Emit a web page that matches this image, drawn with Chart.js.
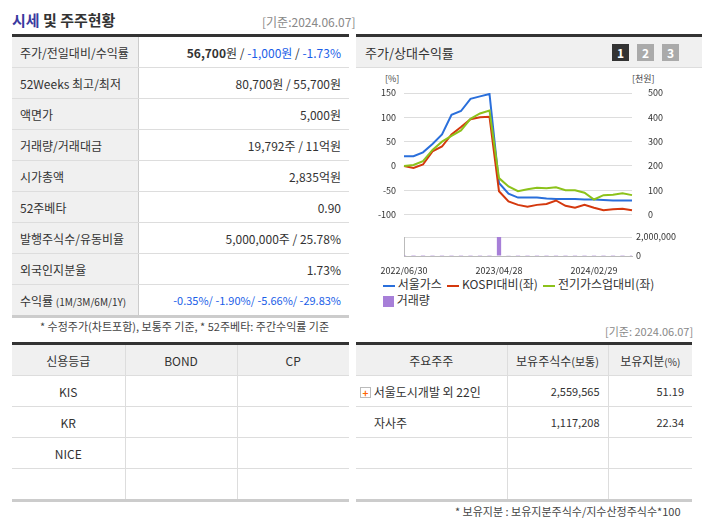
<!DOCTYPE html>
<html><head><meta charset="utf-8">
<script src="https://cdn.jsdelivr.net/npm/chart.js@4"></script>
<style>
body{margin:0;width:702px;height:525px;background:#fff;font-family:"Noto Sans CJK KR","Noto Sans",sans-serif;font-size:12px;color:#333;position:relative;overflow:hidden}
.a{position:absolute;white-space:nowrap}
table{border-collapse:collapse;position:absolute;table-layout:fixed}
td{border-bottom:1px solid #ddd;padding:0 8px;height:30px;font-size:12px;white-space:nowrap}
.lab{background:#f0f0f0;border-right:1px solid #ccc}
.v{text-align:right;color:#333}
.blue{color:#1a5ee8}
.g td{border-right:1px solid #ddd;text-align:center}
.g tr.h td{background:#f0f0f0}
.btn{position:absolute;width:17px;height:17px;top:44px;color:#fff;font-weight:bold;font-size:12px;text-align:center;line-height:17px;background:#aaa}
</style></head><body>
<div class="a" style="left:12px;top:9px;font-size:15px;font-weight:bold;color:#333"><span style="color:#3a3aa0">시세</span> 및 주주현황</div>
<div class="a" style="left:262px;top:13px;color:#888;font-size:12px">[기준:2024.06.07]</div>
<div class="a" style="left:12px;top:34px;width:337px;height:3px;background:#333"></div>
<div class="a" style="left:356px;top:34px;width:346px;height:3px;background:#333"></div>

<table style="left:12px;top:37px;width:337px">
<colgroup><col style="width:126px"><col style="width:211px"></colgroup>
<tr><td class="lab">주가/전일대비/수익률</td><td class="v"><b>56,700</b>원 / <span class="blue">-1,000원</span> / <span class="blue">-1.73%</span></td></tr>
<tr><td class="lab">52Weeks 최고/최저</td><td class="v">80,700원 / 55,700원</td></tr>
<tr><td class="lab">액면가</td><td class="v">5,000원</td></tr>
<tr><td class="lab">거래량/거래대금</td><td class="v">19,792주 / 11억원</td></tr>
<tr><td class="lab">시가총액</td><td class="v">2,835억원</td></tr>
<tr><td class="lab">52주베타</td><td class="v">0.90</td></tr>
<tr><td class="lab">발행주식수/유동비율</td><td class="v">5,000,000주 / 25.78%</td></tr>
<tr><td class="lab">외국인지분율</td><td class="v">1.73%</td></tr>
<tr><td class="lab" style="border-bottom:3px solid #ccc">수익률 <span style="font-size:10px">(1M/3M/6M/1Y)</span></td><td class="v blue" style="border-bottom:3px solid #ccc;font-size:11px">-0.35%/ -1.90%/ -5.66%/ -29.83%</td></tr>
</table>
<div class="a" style="left:40px;top:318px;font-size:11px;color:#444">* 수정주가(차트포함), 보통주 기준, * 52주베타: 주간수익률 기준</div>

<div class="a" style="left:356px;top:37px;width:346px;height:30px;background:#f0f0f0;border-bottom:1px solid #ddd"></div>
<div class="a" style="left:365px;top:43px;font-size:13px">주가/상대수익률</div>
<div class="btn" style="left:612px;background:#333">1</div>
<div class="btn" style="left:637px">2</div>
<div class="btn" style="left:662px">3</div>
<div class="a" style="left:385px;top:72px;font-size:9px;color:#444">[%]</div>
<div class="a" style="left:632px;top:72px;font-size:9px;color:#444">[천원]</div>

<div class="a" style="left:356px;top:70px;width:344px;height:158px"><canvas id="c1"></canvas></div>
<div class="a" style="left:356px;top:229px;width:344px;height:46px"><canvas id="c2"></canvas></div>

<div class="a" style="left:383px;top:276px;font-size:12px;line-height:16px">
<span style="display:inline-block;width:12px;height:2px;background:#2a6fdb;vertical-align:middle"></span> 서울가스 &nbsp;<span style="display:inline-block;width:12px;height:2px;background:#d4380d;vertical-align:middle"></span> KOSPI대비(좌) &nbsp;<span style="display:inline-block;width:12px;height:2px;background:#8cc21b;vertical-align:middle"></span> 전기가스업대비(좌)<br>
<span style="display:inline-block;width:11px;height:11px;background:#a77fd8;vertical-align:middle"></span> 거래량</div>

<div class="a" style="left:12px;top:342px;width:337px;height:3px;background:#333"></div>
<div class="a" style="left:356px;top:342px;width:336px;height:3px;background:#333"></div>
<div class="a" style="left:605px;top:323px;color:#888;font-size:11px">[기준: 2024.06.07]</div>

<table class="g" style="left:12px;top:345px;width:337px">
<colgroup><col style="width:113px"><col style="width:112px"><col style="width:112px"></colgroup>
<tr class="h"><td>신용등급</td><td>BOND</td><td style="border-right:0">CP</td></tr>
<tr><td>KIS</td><td></td><td style="border-right:0"></td></tr>
<tr><td>KR</td><td></td><td style="border-right:0"></td></tr>
<tr><td>NICE</td><td></td><td style="border-right:0"></td></tr>
<tr><td style="border-bottom:3px solid #ccc"></td><td style="border-bottom:3px solid #ccc"></td><td style="border-right:0;border-bottom:3px solid #ccc"></td></tr>
</table>
<table class="g" style="left:356px;top:345px;width:336px">
<colgroup><col style="width:151px"><col style="width:101px"><col style="width:84px"></colgroup>
<tr class="h"><td>주요주주</td><td>보유주식수<span style="font-size:11px">(보통)</span></td><td style="border-right:0">보유지분<span style="font-size:10px">(%)</span></td></tr>
<tr><td style="text-align:left;padding-left:4px"><span style="display:inline-block;width:9px;height:9px;border:1px solid #bbb;color:#f60;font-size:10px;line-height:9px;text-align:center;font-weight:bold">+</span> 서울도시개발 외 22인</td><td style="text-align:right;font-size:11px">2,559,565</td><td style="border-right:0;text-align:right;font-size:11px">51.19</td></tr>
<tr><td style="text-align:left;padding-left:18px">자사주</td><td style="text-align:right;font-size:11px">1,117,208</td><td style="border-right:0;text-align:right;font-size:11px">22.34</td></tr>
<tr><td></td><td></td><td style="border-right:0"></td></tr>
<tr><td style="border-bottom:3px solid #ccc"></td><td style="border-bottom:3px solid #ccc"></td><td style="border-right:0;border-bottom:3px solid #ccc"></td></tr>
</table>
<div class="a" style="left:455px;top:503px;font-size:11px;color:#444">* 보유지분 : 보유지분주식수/지수산정주식수*100</div>

<script>
const labels=["2022/06/30","2022/07/29","2022/08/31","2022/09/30","2022/10/31","2022/11/30","2022/12/29","2023/01/31","2023/02/28","2023/03/31","2023/04/28","2023/05/31","2023/06/30","2023/07/31","2023/08/31","2023/09/27","2023/10/31","2023/11/30","2023/12/28","2024/01/31","2024/02/29","2024/03/29","2024/04/30","2024/05/31","2024/06/07"];
const shownTicks=["2022/06/30","2023/04/28","2024/02/29"];
const seoulGas=[20,20,28,45,65,105,113,138,143,148,-35,-57,-65,-65,-65,-67,-68,-68,-68,-69,-69,-70,-71,-71,-71];
const kospiRel=[0,-4,3,30,40,65,80,96,100,101,-52,-73,-80,-84,-80,-78,-71,-82,-86,-80,-86,-91,-89,-88,-91];
const utilRel=[0,2,10,33,50,62,73,97,108,114,-25,-42,-52,-48,-45,-46,-44,-50,-50,-55,-69,-60,-59,-56,-60];
const volume=[20000,15000,15000,20000,20000,20000,20000,20000,20000,20000,2050000,30000,20000,20000,20000,20000,20000,20000,20000,20000,20000,20000,20000,20000,20000];
const volTicks=[0,2000000];
const tf={family:"Noto Sans CJK KR",size:9};
const fitL=s=>{s.width=48}, fitR=s=>{s.width=68};
const ln=(d,c)=>({data:d,borderColor:c,borderWidth:2,pointRadius:0,tension:0,yAxisID:'y'});
new Chart(c1,{type:'line',data:{labels,datasets:[ln(utilRel,'#8cc21b'),ln(kospiRel,'#d4380d'),ln(seoulGas,'#2a6fdb')]},
options:{responsive:true,maintainAspectRatio:false,animation:false,layout:{padding:{top:23,bottom:2}},plugins:{legend:{display:false},tooltip:{enabled:false}},
scales:{x:{display:false,offset:false},
y:{min:-100,max:150,afterFit:fitL,ticks:{stepSize:50,color:'#333',font:tf,padding:8},grid:{color:'#ddd',drawTicks:false},border:{display:false}},
y2:{position:'right',min:0,max:500,afterFit:fitR,ticks:{stepSize:100,color:'#333',font:tf,padding:8},grid:{display:false},border:{display:false}}}}});
const volLabel={id:'volLabel',afterDraw(ch){const s=ch.scales.yv,c=ch.ctx;c.save();c.font='9px "Noto Sans CJK KR"';c.fillStyle='#333';c.textBaseline='middle';volTicks.forEach(v=>c.fillText(v.toLocaleString('en-US'),s.left+4,s.getPixelForValue(v)));c.restore();}};
new Chart(c2,{type:'bar',data:{labels,datasets:[{data:volume,backgroundColor:'#a77fd8',barPercentage:0.45,categoryPercentage:1,yAxisID:'yv'}]},plugins:[volLabel],
options:{responsive:true,maintainAspectRatio:false,animation:false,layout:{padding:{top:8}},plugins:{legend:{display:false},tooltip:{enabled:false}},
scales:{x:{offset:false,grid:{display:false,drawTicks:true},border:{color:'#bbb'},ticks:{autoSkip:false,maxRotation:0,padding:1,color:'#333',font:tf,callback:function(v){const l=labels[v];return shownTicks.includes(l)?l:'';}}},
yl:{position:'left',afterFit:fitL,ticks:{display:false},grid:{display:false},border:{color:'#bbb'}},
yv:{position:'right',min:0,max:2000000,afterFit:fitR,afterBuildTicks:s=>{s.ticks=volTicks.map(v=>({value:v}));},ticks:{display:false},grid:{color:'#ddd',drawTicks:false},border:{display:false}}}}});
</script>
</body></html>
